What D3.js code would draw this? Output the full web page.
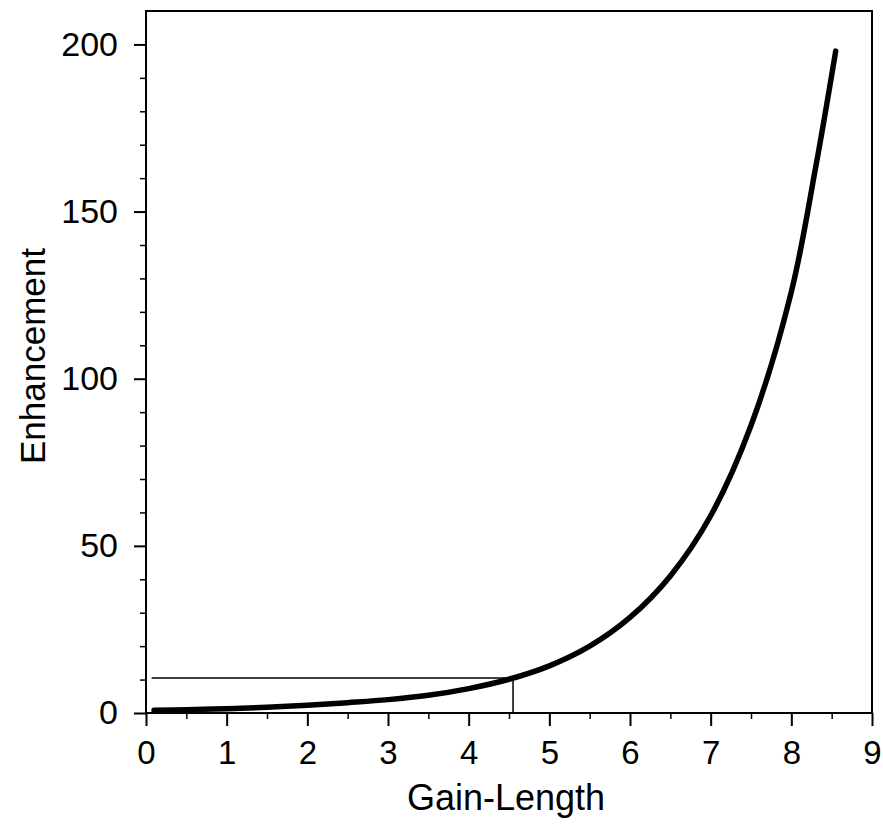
<html>
  <head>
    <title>Enhancement vs Gain-Length</title>
  </head>
<script src='https://d3js.org/d3.v7.min.js'></script>
<style>
body { margin: 0; background: white; }
text { font-family: "Liberation Sans", Arial, sans-serif; fill: black; }
</style>
<body onload='init()'>
<svg width=883 height=824></svg>
<script>
// curve
var gainLength  = [0.1, 0.5, 1.0, 1.5, 2.0, 2.5, 3.0, 3.5, 4.0, 4.5, 5.0, 5.5, 6.0, 6.5, 7.0, 7.5, 8.0, 8.3, 8.55];
var enhancement = [0.8, 1.0, 1.3, 1.7, 2.3, 3.1, 4.0, 5.3, 7.3, 10.1, 14.1, 20.0, 28.6, 41, 59, 86, 126, 163, 198];

// marker line where the curve reaches ~10
var markG = 0.07, markX = 4.55, markE = 10.5;

var xTicks = [0,1,2,3,4,5,6,7,8,9];
var yTicks = [0,50,100,150,200];

function init() {
var svg = d3.select("svg");
var x = d3.scaleLinear().domain([0,9]).range([146, 872]);
var y = d3.scaleLinear().domain([0,210]).range([713, 11]);

var data = gainLength.map(function(g,i) { return {g: g, e: enhancement[i]}; });

// frame
svg.append("rect")
    .attr("x", x(0)).attr("y", y(210))
    .attr("width", x(9)-x(0)).attr("height", y(0)-y(210))
    .style("fill","none").style("stroke","black").style("stroke-width",2);

// minor ticks
svg.append("g")
    .attr("transform","translate(0,"+y(0)+")")
    .call(d3.axisBottom(x).tickValues(d3.range(0.5,9,1)).tickSize(6).tickFormat(""))
    .call(function(g){ g.select(".domain").remove(); })
    .selectAll("line").style("stroke-width",1.5);
svg.append("g")
    .attr("transform","translate("+x(0)+",0)")
    .call(d3.axisLeft(y).tickValues(d3.range(10,210,10).filter(function(v){return v%50;})).tickSize(6).tickFormat(""))
    .call(function(g){ g.select(".domain").remove(); })
    .selectAll("line").style("stroke-width",1.5);

// major ticks + labels
var xa = svg.append("g")
    .attr("transform","translate(0,"+y(0)+")")
    .call(d3.axisBottom(x).tickValues(xTicks).tickSize(13).tickPadding(15));
xa.select(".domain").remove();
xa.selectAll("line").style("stroke-width",2);
xa.selectAll("text").style("font-size","33px").style("font-family","Liberation Sans, Arial, sans-serif");

var ya = svg.append("g")
    .attr("transform","translate("+x(0)+",0)")
    .call(d3.axisLeft(y).tickValues(yTicks).tickSize(12).tickPadding(16));
ya.select(".domain").remove();
ya.selectAll("line").style("stroke-width",2);
ya.selectAll("text").style("font-size","34px").style("font-family","Liberation Sans, Arial, sans-serif");

// marker lines
svg.append("path")
    .attr("d", d3.line()([[x(markG), y(markE)], [x(markX), y(markE)], [x(markX), y(0)]]))
    .style("fill","none").style("stroke","black").style("stroke-width",1.5);

// curve
svg.append("path")
    .datum(data)
    .attr("d", d3.line()
        .x(function(d){ return x(d.g); })
        .y(function(d){ return y(d.e); })
        .curve(d3.curveCatmullRom.alpha(0.5)))
    .style("fill","none").style("stroke","black").style("stroke-width",5.5)
    .style("stroke-linecap","round");

// axis titles
svg.append("text")
    .attr("transform","translate(506,810)")
    .style("text-anchor","middle").style("font-size","36px")
    .text("Gain-Length");

svg.append("text")
    .attr("transform","translate(45,356) rotate(-90)")
    .style("text-anchor","middle").style("font-size","35px")
    .text("Enhancement");
}
</script>
</body>
</html>
